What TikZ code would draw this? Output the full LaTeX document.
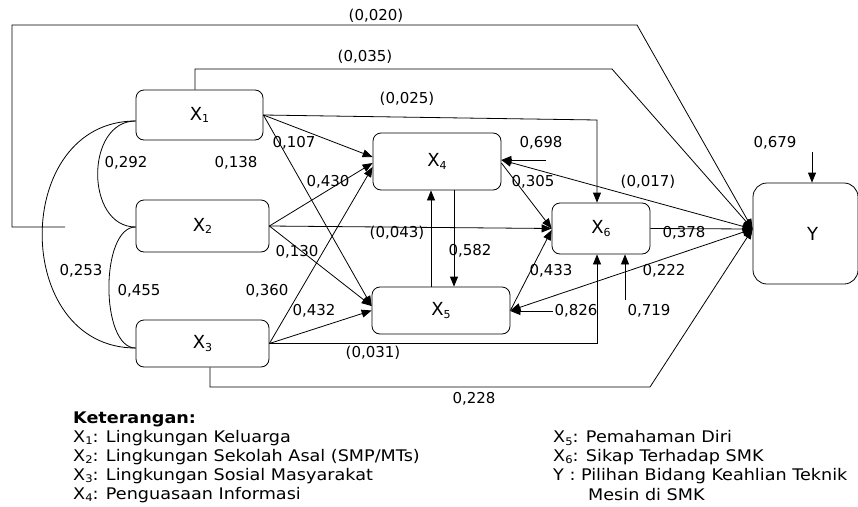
\documentclass[tikz,border=0pt]{standalone}
\usepackage{fontspec}
\setmainfont{DejaVu Sans}
\newfontfamily\legfont[FakeStretch=1.1]{DejaVu Sans}
\usetikzlibrary{arrows.meta,calc}
\newcommand\sbx[1]{\raisebox{-2.5pt}{\fontsize{11}{11}\selectfont #1}}
\newcommand\sbl[1]{\raisebox{-2.5pt}{\fontsize{10.5}{10.5}\selectfont #1}}
\begin{document}
\begin{tikzpicture}[x=1pt,y=-1pt,
  box/.style={draw, rounded corners=8pt, line width=0.8pt, inner sep=0pt, font=\fontsize{18}{20}\selectfont},
  con/.style={line width=0.8pt},
  arr/.style={con, -{Triangle[length=10pt,width=8pt]}},
  arrb/.style={con, {Triangle[length=10pt,width=8pt]}-{Triangle[length=10pt,width=8pt]}},
  lab/.style={font=\fontsize{15}{17}\selectfont, inner sep=0pt},
  leg/.style={font={\legfont\fontsize{16}{18}\selectfont}, anchor=west, inner sep=0pt}]
\useasboundingbox (0,0) rectangle (858,506);
\clip (0,0) rectangle (858,506);
% nodes
\node[box, minimum width=127pt, minimum height=50pt] (X1) at (199.5,115) {X\sbx{1}};
\node[box, minimum width=133pt, minimum height=52pt] (X2) at (202.5,226) {X\sbx{2}};
\node[box, minimum width=133pt, minimum height=47pt] (X3) at (202.5,343.5) {X\sbx{3}};
\node[box, minimum width=128pt, minimum height=57pt] (X4) at (437,161.5) {X\sbx{4}};
\node[box, minimum width=138pt, minimum height=47pt] (X5) at (441,310.5) {X\sbx{5}};
\node[box, minimum width=98pt, minimum height=51pt] (X6) at (601,228.5) {X\sbx{6}};
\node[box, rounded corners=14pt, minimum width=105pt, minimum height=101pt] (Y) at (805.5,233.5) {\hspace*{14pt}Y};
\coordinate (yin) at ([yshift=4.5pt]Y.west);
% correlations
\draw[con] ([yshift=-6pt]X1.west) .. controls (85,121) and (85,227) .. ([yshift=-1pt]X2.west);
\draw[con] ([yshift=-6pt]X1.west) .. controls (11,121) and (11,348) .. ([yshift=-4.5pt]X3.west);
\draw[con] ([yshift=-1pt]X2.west) .. controls (100,227) and (100,348) .. ([yshift=-4.5pt]X3.west);
% long paths to Y
\coordinate (c20) at (65,227);
\draw[arr] (c20) -- (12,227) -- (12,25) -- (637,25) -- (yin);
\draw[arr] ([xshift=-4.5pt]X1.north) |- (612,69) -- (yin);
\draw[arr] ([xshift=7.5pt]X3.south) |- (650,387) -- (yin);
% paths to X6 with corners
\draw[arr] (X1.east) -- (597,120) -- ([xshift=-4pt]X6.north);
\draw[arr] (X3.east) -| ([xshift=-4pt]X6.south);
% straight arrows
\draw[arr] (X1.east) -- ([yshift=4.5pt]X4.west);
\draw[arr] (X1.east) -- ([yshift=4.5pt]X5.west);
\draw[arr] (X2.east) -- ([yshift=-1.5pt]X4.west);
\draw[arr] (X2.east) -- ([yshift=4.5pt]X5.west);
\draw[arr] (X2.east) -- (X6.west);
\draw[arr] (X3.east) -- ([yshift=-5.5pt]X4.west);
\draw[arr] (X3.east) -- (X5.west);
\draw[arr] ([yshift=-1.5pt]X4.east) -- (X6.west);
\draw[arr] (X5.east) -- ([yshift=-1.5pt]X6.west);
\draw[arr] ([xshift=17pt]X4.south) -- ([xshift=17pt]X4.south |- X5.north);
\draw[arr] ([xshift=-6pt]X4.south |- X5.north) -- ([xshift=-6pt]X4.south);
\draw[arr] (X6.east) -- (yin);
\draw[arrb] (yin) -- ([yshift=1.5pt]X4.east);
\draw[arrb] (yin) -- (X5.east);
% residual arrows
\coordinate (e4) at (546,160);
\coordinate (e5) at (553,311);
\coordinate (e6) at (625,300);
\coordinate (e7) at (812,152);
\draw[arr] (e4) -- (e4 -| X4.east);
\draw[arr] (e5) -- (e5 -| X5.east);
\draw[arr] (e6) -- (e6 |- X6.south);
\draw[arr] (e7) -- (e7 |- Y.north);
% labels
\node[lab] (l020) at (376,16) {(0,020)};
\node[lab] (l035) at (365,57) {(0,035)};
\node[lab] (l025) at (407,99) {(0,025)};
\node[lab] (l107) at (294,143) {0,107};
\node[lab] (l292) at (126,163) {0,292};
\node[lab] (l138) at (236,163) {0,138};
\node[lab] (l430) at (328,182) {0,430};
\node[lab] (l698) at (541,143) {0,698};
\node[lab] (l305) at (533,182) {0,305};
\node[lab] (l017) at (648,182) {(0,017)};
\node[lab] (l679) at (775,143) {0,679};
\node[lab] (l043) at (397,233) {(0,043)};
\node[lab] (l130) at (297,252) {0,130};
\node[lab] (l253) at (81,271) {0,253};
\node[lab] (l455) at (139,291) {0,455};
\node[lab] (l360) at (267,291) {0,360};
\node[lab] (l432) at (314,311) {0,432};
\node[lab] (l031) at (373,353) {(0,031)};
\node[lab] (l582) at (470,251) {0,582};
\node[lab] (l378) at (684,233) {0,378};
\node[lab] (l433) at (551,271) {0,433};
\node[lab] (l222) at (664,271) {0,222};
\node[lab] (l826) at (576,311) {0,826};
\node[lab] (l719) at (649,311) {0,719};
\node[lab] (l228) at (474,399) {0,228};
% legend
\node[leg, font={\legfont\bfseries\fontsize{16}{18}\selectfont}] (k0) at (73,419) {Keterangan:};
\node[leg] (k1) at (73,438) {X\sbl{1}: Lingkungan Keluarga};
\node[leg] (k2) at (73,457) {X\sbl{2}: Lingkungan Sekolah Asal (SMP/MTs)};
\node[leg] (k3) at (73,476) {X\sbl{3}: Lingkungan Sosial Masyarakat};
\node[leg] (k4) at (73,495) {X\sbl{4}: Penguasaan Informasi};
\node[leg] (k5) at (553,438) {X\sbl{5}: Pemahaman Diri};
\node[leg] (k6) at (553,457) {X\sbl{6}: Sikap Terhadap SMK};
\node[leg] (k7) at (553,476) {Y : Pilihan Bidang Keahlian Teknik};
\node[leg] (k8) at (588,495) {Mesin di SMK};
\end{tikzpicture}
\end{document}
